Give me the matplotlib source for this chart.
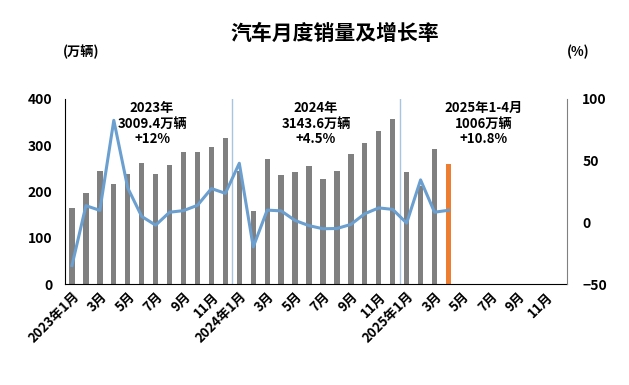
import numpy as np
import matplotlib
matplotlib.use("Agg")
import matplotlib.pyplot as plt

plt.rcParams['font.family'] = ['Noto Sans CJK SC', 'DejaVu Sans']
plt.rcParams['font.weight'] = 'bold'

# monthly sales (万辆), 2023-01 .. 2025-04
sales_2023 = [164.9, 197.6, 245.1, 216.0, 238.2, 262.2, 238.7, 258.2, 285.8, 285.3, 297.0, 315.6]
sales_2024 = [243.9, 158.4, 269.4, 235.9, 241.7, 255.3, 226.2, 245.3, 280.9, 305.3, 331.6, 355.9]
sales_2025 = [242.3, 212.8, 291.5, 259.0]

# year-on-year growth (%)
growth_2023 = [-35.0, 13.5, 9.7, 82.7, 27.9, 4.8, -2.3, 8.2, 9.5, 13.8, 27.4, 23.5]
growth_2024 = [47.9, -19.9, 9.9, 9.3, 1.5, -2.7, -5.2, -5.0, -1.7, 7.0, 11.7, 10.5]
growth_2025 = [-0.6, 34.4, 8.2, 9.8]

months_total = 36
years = ['2023', '2024', '2025']
notes = ['2023年\n3009.4万辆\n+12%', '2024年\n3143.6万辆\n+4.5%', '2025年1-4月\n1006万辆\n+10.8%']

sales = sales_2023 + sales_2024 + sales_2025
growth = growth_2023 + growth_2024 + growth_2025
x = np.arange(len(sales))

tick_pos = np.arange(0, months_total, 2)
tick_labels = []
for p in tick_pos:
    m = p % 12 + 1
    if m == 1:
        tick_labels.append(years[p // 12] + '年1月')
    else:
        tick_labels.append(str(m) + '月')

fig = plt.figure(figsize=(6.29, 3.85), dpi=100)
ax = fig.add_axes([65 / 629, 1 - 284 / 385, (567 - 65) / 629, (284 - 99) / 385])

colors = ['#808080'] * (len(sales) - 1) + ['#ED7D31']
ax.bar(x, sales, width=0.38, color=colors, zorder=2)
ax.set_xlim(-0.5, months_total - 0.5)
ax.set_ylim(0, 400)
ax.set_yticks([0, 100, 200, 300, 400])
ax.set_xticks(tick_pos)
ax.set_xticklabels(tick_labels, rotation=45, ha='right', rotation_mode='anchor', fontsize=9.5, fontweight='bold')
ax.tick_params(axis='x', length=0, pad=4)
ax.tick_params(axis='y', length=0, labelsize=10, pad=9)
for lab in ax.get_yticklabels():
    lab.set_fontweight('bold')

for s in ['top', 'right']:
    ax.spines[s].set_visible(False)
ax.spines['left'].set_color('black')
ax.spines['bottom'].set_color('black')

# year separators
for sep in [11.5, 23.5]:
    ax.axvline(sep, color='#A9C4E0', lw=1, zorder=1)

for xc, txt in zip([5.75, 17.5, 29.5], notes):
    ax.text(xc, 395, txt, ha='center', va='top', fontsize=9.5, fontweight='bold', linespacing=1.1)

ax2 = ax.twinx()
ax2.plot(x, growth, color='#6A9FCF', lw=2.2, zorder=3)
ax2.set_ylim(-50, 100)
ax2.set_yticks([-50, 0, 50, 100])
ax2.tick_params(length=0, labelsize=10, pad=11)
for lab in ax2.get_yticklabels():
    lab.set_fontweight('bold')
for s in ['top', 'left', 'bottom']:
    ax2.spines[s].set_visible(False)
ax2.spines['right'].set_color('#808080')

fig.text(335 / 629, 1 - 33 / 385, '汽车月度销量及增长率', ha='center', va='center', fontsize=15, fontweight='bold')
fig.text(81 / 629, 1 - 52 / 385, '(万辆)', ha='center', va='center', fontsize=9.5, fontweight='bold')
fig.text(578 / 629, 1 - 52 / 385, '(%)', ha='center', va='center', fontsize=9.5, fontweight='bold')

fig.savefig('out.png', dpi=100)
